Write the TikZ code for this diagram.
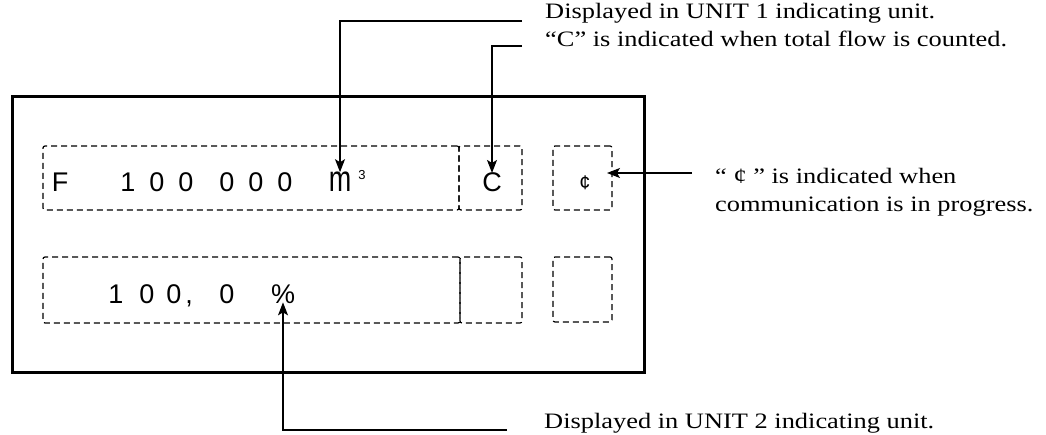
\documentclass[tikz,border=0pt]{standalone}
\usepackage{fontspec}
\setmainfont{Liberation Serif}
\newfontfamily\annfont[FakeStretch=1.2]{Liberation Serif}
\newfontfamily\dispfont{Liberation Sans}
\usetikzlibrary{arrows.meta}
\begin{document}
\begin{tikzpicture}[x=1pt,y=-1pt,
  frame/.style={draw,line width=3pt,inner sep=0pt,outer sep=0pt},
  dbox/.style={draw,line width=1.2pt,dash pattern=on 6pt off 4pt,rounded corners=2pt,inner sep=0pt,outer sep=0pt},
  disp/.style={inner sep=0pt,font=\dispfont\fontsize{27}{30}\selectfont},
  ann/.style={inner sep=0pt,font=\annfont\fontsize{22}{27}\selectfont,align=left},
  conn/.style={line width=1.2pt},
  arr/.style={conn,-{Stealth[length=13pt,width=10pt,inset=3pt]}}]
\useasboundingbox (0,0) rectangle (1046,435);
% outer frame
\node[frame,minimum width=632pt,minimum height=275pt] (frame) at (328,234.5) {};
% dashed segments
\node[dbox,minimum width=416pt,minimum height=64pt] (b1) at (251,178) {};
\node[dbox,minimum width=63pt,minimum height=64pt] (b2) at (490.5,178) {};
\node[dbox,minimum width=59pt,minimum height=64pt] (b3) at (582.5,178) {};
\node[dbox,minimum width=417pt,minimum height=66pt] (b4) at (251.5,290) {};
\node[dbox,minimum width=62pt,minimum height=66pt] (b5) at (491,290) {};
\node[dbox,minimum width=59pt,minimum height=65pt] (b6) at (582.5,289.5) {};
% upper display
\foreach \x/\c/\n in {60/F/tf,128/1/ta,157/0/tb,186/0/tc,227/0/td,256/0/te,285/0/tg}
  \node[disp,anchor=base] (\n) at (\x,192) {\c};
\node[disp,anchor=base] (mch) at (340,192) {\scalebox{1}[1.35]{m}};
\node[inner sep=0pt,anchor=base,font=\dispfont\fontsize{13}{14}\selectfont] (cube) at (362,180) {3};
\node[disp,anchor=base] (cch) at (492,192) {C};
\node[inner sep=0pt,font=\dispfont\fontsize{20}{22}\selectfont] (cent) at (585,183) {¢};
% lower display
\foreach \x/\c/\n in {116/1/la,147/0/lb,174/0/lc,189/{,}/ld,227/0/le}
  \node[disp,anchor=base] (\n) at (\x,304) {\c};
\node[disp,anchor=base] (pct) at (283,304) {\%};
% annotation texts
\node[ann,anchor=base west] (t1) at (545,19) {Displayed in UNIT 1 indicating unit.};
\node[ann,anchor=base west] (t2) at (545,47) {“C” is indicated when total flow is counted.};
\node[ann,anchor=base west] (t3) at (715,184) {“ ¢ ” is indicated when};
\node[ann,anchor=base west] (t4) at (715,212) {communication is in progress.};
\node[ann,anchor=base west] (t5) at (544,428) {Displayed in UNIT 2 indicating unit.};
% connectors
\coordinate (u1) at (522,21);
\coordinate (u2) at (522,46);
\coordinate (u3) at (692,173);
\coordinate (u4) at (507,430);
\draw[arr] (u1) -| (mch.north);
\draw[arr] (u2) -| (cch.north);
\draw[arr,shorten >=-5pt] (u3) -- (u3 -| b3.east);
\draw[arr,shorten >=-2pt] (u4) -| (pct.south);
\end{tikzpicture}
\end{document}
